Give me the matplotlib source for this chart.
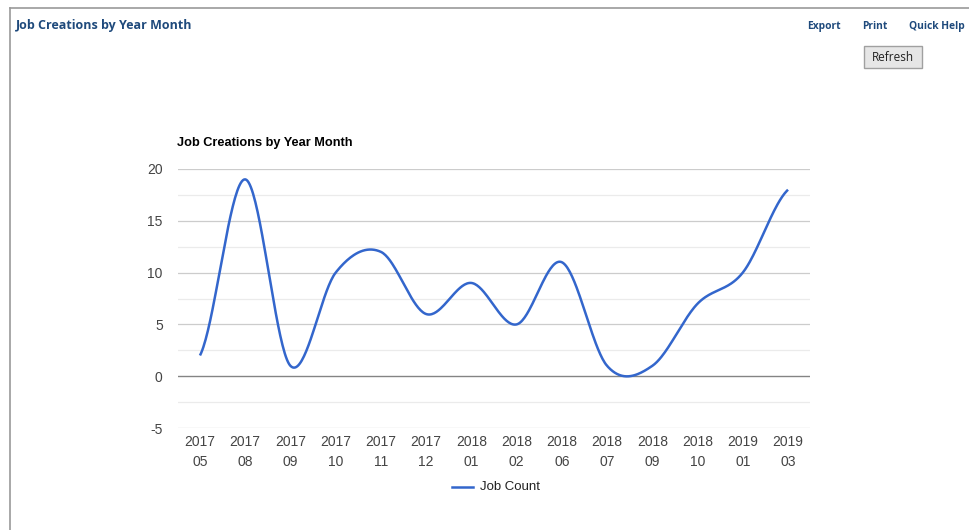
import numpy as np
import matplotlib
matplotlib.use("Agg")
import matplotlib.pyplot as plt
from matplotlib.patches import FancyBboxPatch
from matplotlib.lines import Line2D

# Monthly job creation counts
months = ["2017\n05", "2017\n08", "2017\n09", "2017\n10", "2017\n11", "2017\n12",
          "2018\n01", "2018\n02", "2018\n06", "2018\n07", "2018\n09", "2018\n10",
          "2019\n01", "2019\n03"]
job_count = [2, 19, 1, 10, 12, 6, 9, 5, 11, 1, 1, 7, 10, 18]

chart_title = "Job Creations by Year Month"
page_title = "Job Creations by Year Month"
header_links = ["Export", "Print", "Quick Help"]
y_ticks = [-5, 0, 5, 10, 15, 20]
series_name = "Job Count"

W, H = 970, 530
fig = plt.figure(figsize=(W / 100, H / 100), dpi=100)
fig.patch.set_facecolor("white")


def px(x, y):
    """Pixel position (from top-left) to figure fraction."""
    return x / W, 1 - y / H


def smooth(xs, ys, n=40):
    """Catmull-Rom curve through the points (cubic Hermite, uniform spacing)."""
    xs = np.asarray(xs, float)
    ys = np.asarray(ys, float)
    m = len(ys)
    tang = np.zeros(m)
    tang[1:-1] = (ys[2:] - ys[:-2]) / 2
    tang[0] = (ys[1] - ys[0]) / 2
    tang[-1] = (ys[-1] - ys[-2]) / 2
    out_x, out_y = [], []
    for i in range(m - 1):
        t = np.linspace(0, 1, n, endpoint=(i == m - 2))
        h00 = 2 * t**3 - 3 * t**2 + 1
        h10 = t**3 - 2 * t**2 + t
        h01 = -2 * t**3 + 3 * t**2
        h11 = t**3 - t**2
        dx = xs[i + 1] - xs[i]
        out_y.append(h00 * ys[i] + h10 * tang[i] + h01 * ys[i + 1] + h11 * tang[i + 1])
        out_x.append(xs[i] + t * dx)
    return np.concatenate(out_x), np.concatenate(out_y)


# Page frame lines
fig.add_artist(Line2D([10 / W, 1], [1 - 7.5 / H] * 2, color="#9a9a9a", lw=1.2))
fig.add_artist(Line2D([10.5 / W] * 2, [1 - 7.5 / H, 0], color="#9a9a9a", lw=1.2))

# Page header
hdr_font = ["Open Sans", "DejaVu Sans"]
fig.text(*px(16, 29), page_title, color="#1f4a7c", fontsize=9, fontweight="bold",
         family=hdr_font, va="baseline", ha="left")
for label, x in zip(header_links, [807, 862, 909]):
    fig.text(*px(x, 29), label, color="#1f4a7c", fontsize=7.4, fontweight="bold",
             family=hdr_font, va="baseline", ha="left")

# Refresh button
bx0, by0, bx1, by1 = 864, 46, 922, 68
btn = FancyBboxPatch((bx0 / W, 1 - by1 / H), (bx1 - bx0) / W, (by1 - by0) / H,
                     boxstyle="square,pad=0", transform=fig.transFigure,
                     facecolor="#e6e6e6", edgecolor="#a0a0a0", lw=1.0)
fig.add_artist(btn)
fig.text(*px((bx0 + bx1) / 2, 57.5), "Refresh", color="#222222", fontsize=8.5,
         family=hdr_font, va="center", ha="center")

# Chart area
chart_font = ["Liberation Sans", "DejaVu Sans"]
x0, x1, ytop, ybot = 178, 810, 169, 428
ax = fig.add_axes([x0 / W, 1 - ybot / H, (x1 - x0) / W, (ybot - ytop) / H])
ax.set_facecolor("white")
xpos = np.arange(len(months))
ax.set_xlim(-0.486, len(months) - 1 + 0.486)
ax.set_ylim(-5, 20)

for v in np.arange(-5, 20.01, 2.5):
    if v == 0:
        continue
    major = (v % 5 == 0)
    ax.axhline(v, color="#cccccc" if major else "#ebebeb", lw=0.9, zorder=0)
ax.axhline(0, color="#333333", lw=1.0, alpha=0.6, zorder=1)

sx, sy = smooth(xpos, job_count)
ax.plot(sx, sy, color="#3366cc", lw=1.8, zorder=3, solid_capstyle="butt")

for s in ax.spines.values():
    s.set_visible(False)
ax.set_yticks(y_ticks)
ax.set_yticklabels([str(v) for v in y_ticks], family=chart_font, fontsize=10,
                   color="#444444")
ax.set_xticks(xpos)
ax.set_xticklabels(months, family=chart_font, fontsize=10, color="#444444",
                   linespacing=1.55)
ax.tick_params(axis="both", length=0)
ax.tick_params(axis="y", pad=11)
ax.tick_params(axis="x", pad=5)

fig.text(*px(177, 143), chart_title, color="#000000", fontsize=9.2,
         fontweight="bold", family=chart_font, va="center", ha="left")

# Legend
fig.add_artist(Line2D([452 / W, 473 / W], [1 - 487 / H] * 2, color="#3366cc", lw=1.8))
fig.text(*px(480, 487), series_name, color="#222222", fontsize=9.5,
         family=chart_font, va="center", ha="left")

fig.savefig("out.png", dpi=100, facecolor="white")
